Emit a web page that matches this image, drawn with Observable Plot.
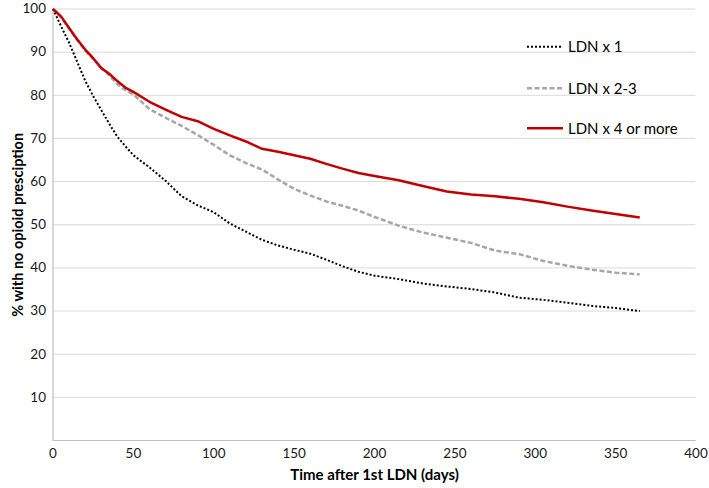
<!DOCTYPE html>
<html>
<head>
<meta charset="utf-8">
<script src="https://cdn.jsdelivr.net/npm/d3@7"></script>
<script src="https://cdn.jsdelivr.net/npm/@observablehq/plot@0.6"></script>
<style>
  html, body { margin: 0; padding: 0; background: #fff; }
  #wrap { position: relative; width: 709px; height: 488px; font-family: Lato, "Open Sans", sans-serif; }
  #legend { position: absolute; left: 0; top: 0; pointer-events: none; }
</style>
</head>
<body>
<div id="wrap"></div>
<script>
// Time after 1st LDN (days)
const days = [0,5,10,15,20,25,30,35,40,45,50,60,70,80,90,100,110,120,130,140,150,160,170,180,190,200,215,230,245,260,275,290,305,320,335,350,365];

// % with no opioid prescription per group
const ldn1 = [100,96,92.2,87.8,83.4,79.8,76.6,73.4,70.4,68.2,66.1,63.3,60.2,56.6,54.5,52.9,50.3,48.4,46.5,45.2,44.2,43.3,41.9,40.4,39.1,38.2,37.4,36.4,35.7,35.1,34.3,33.1,32.6,31.9,31.2,30.7,30.0];
const ldn23 = [100,98,95.5,92.8,90.4,88.4,86.5,84.6,82.6,81.2,80.2,76.8,74.8,72.9,70.8,68.5,66.1,64.3,62.8,60.5,58.3,56.8,55.4,54.4,53.3,51.8,49.8,48.2,47,45.8,44,43.2,41.6,40.5,39.6,38.9,38.5];
const ldn4 = [100,98.3,95.6,93,90.6,88.6,86.3,85,83.3,81.8,80.8,78.5,76.7,75,74,72.2,70.7,69.3,67.6,66.9,66.1,65.3,64.1,63,62,61.3,60.3,59,57.7,57,56.6,56,55.2,54.2,53.3,52.5,51.7];

const seriesNames = ["LDN x 1", "LDN x 2-3", "LDN x 4 or more"];
const xTicks = [0,50,100,150,200,250,300,350,400];
const yTicks = [10,20,30,40,50,60,70,80,90,100];

const styles = {
  "LDN x 1": {stroke: "#000000", width: 2, dash: "2,2"},
  "LDN x 2-3": {stroke: "#a6a6a6", width: 2.5, dash: "5,2.5"},
  "LDN x 4 or more": {stroke: "#c00000", width: 2.5, dash: null}
};

const toRows = (name, vals) => days.map((d, i) => ({series: name, day: d, pct: vals[i]}));
const rows1 = toRows(seriesNames[0], ldn1);
const rows23 = toRows(seriesNames[1], ldn23);
const rows4 = toRows(seriesNames[2], ldn4);

const lineMark = (rows, name) => Plot.line(rows, {
  x: "day", y: "pct",
  stroke: styles[name].stroke,
  strokeWidth: styles[name].width,
  strokeDasharray: styles[name].dash,
  strokeLinecap: "butt",
  strokeLinejoin: "round"
});

const chart = Plot.plot({
  width: 709,
  height: 488,
  marginLeft: 52.5,
  marginRight: 13.5,
  marginTop: 8.5,
  marginBottom: 48,
  style: {fontFamily: "Lato, 'Open Sans', sans-serif", fontSize: "13.5px", color: "#1a1a1a", background: "#fff"},
  x: {domain: [0, 400]},
  y: {domain: [0, 100]},
  marks: [
    Plot.gridY(yTicks, {stroke: "#d9d9d9", strokeOpacity: 1, strokeWidth: 1}),
    Plot.ruleY([0], {stroke: "#bfbfbf", strokeWidth: 1.2}),
    Plot.ruleX([0], {stroke: "#bfbfbf", strokeWidth: 1.2}),
    Plot.axisX({ticks: xTicks, tickSize: 0, tickPadding: 8, label: null}),
    Plot.axisY({ticks: yTicks, tickSize: 0, tickPadding: 7, label: null}),
    lineMark(rows23, "LDN x 2-3"),
    lineMark(rows1, "LDN x 1"),
    lineMark(rows4, "LDN x 4 or more"),
    Plot.text(["Time after 1st LDN (days)"], {
      frameAnchor: "bottom", dy: 39, text: d => d,
      fontWeight: "bold", fontSize: 15, fill: "#000"
    }),
    Plot.text(["% with no opioid presciption"], {
      frameAnchor: "left", dx: -35, rotate: -90, textAnchor: "middle", text: d => d,
      fontWeight: "bold", fontSize: 14.5, fill: "#000"
    })
  ]
});

const wrap = document.getElementById("wrap");
wrap.appendChild(chart);

// Legend overlay (inside plot, upper right)
const ns = "http://www.w3.org/2000/svg";
const leg = document.createElementNS(ns, "svg");
leg.setAttribute("id", "legend");
leg.setAttribute("width", 709);
leg.setAttribute("height", 488);
const legY = [46.7, 88.3, 128.3];
seriesNames.forEach((name, i) => {
  const s = styles[name];
  const ln = document.createElementNS(ns, "line");
  ln.setAttribute("x1", 527); ln.setAttribute("x2", 563);
  ln.setAttribute("y1", legY[i]); ln.setAttribute("y2", legY[i]);
  ln.setAttribute("stroke", s.stroke);
  ln.setAttribute("stroke-width", s.width);
  if (s.dash) ln.setAttribute("stroke-dasharray", s.dash);
  leg.appendChild(ln);
  const t = document.createElementNS(ns, "text");
  t.setAttribute("x", 568); t.setAttribute("y", legY[i]);
  t.setAttribute("dy", "0.35em");
  t.setAttribute("font-size", "15px");
  t.setAttribute("font-family", "Lato, 'Open Sans', sans-serif");
  t.setAttribute("fill", "#000");
  t.textContent = name;
  leg.appendChild(t);
});
wrap.appendChild(leg);
</script>
</body>
</html>
